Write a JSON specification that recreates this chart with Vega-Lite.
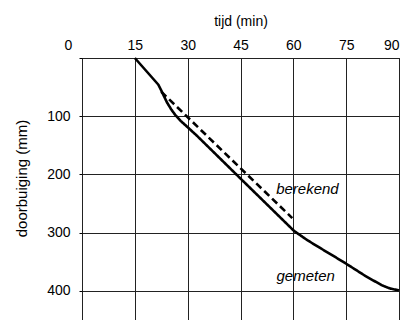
{
  "$schema": "https://vega.github.io/schema/vega-lite/v6.json",
  "width": 317,
  "height": 262,
  "autosize": "none",
  "padding": {"left": 82, "top": 58, "right": 9, "bottom": 0},
  "config": {
    "font": "Liberation Sans",
    "view": {"stroke": "black", "strokeWidth": 1},
    "axis": {
      "labelFont": "Liberation Sans",
      "titleFont": "Liberation Sans",
      "labelColor": "black",
      "titleColor": "black",
      "labelFontSize": 14,
      "titleFontSize": 14,
      "titleFontWeight": "normal",
      "gridColor": "#222",
      "gridOpacity": 1,
      "gridWidth": 1,
      "domainColor": "black",
      "tickColor": "black"
    }
  },
  "layer": [
    {
      "data": {
        "values": [
          {"t": 15, "d": 0, "s": "gemeten"},
          {"t": 21.7, "d": 46, "s": "gemeten"},
          {"t": 23, "d": 62, "s": "gemeten"},
          {"t": 24.1, "d": 76, "s": "gemeten"},
          {"t": 25.3, "d": 88, "s": "gemeten"},
          {"t": 26.5, "d": 98, "s": "gemeten"},
          {"t": 28, "d": 108, "s": "gemeten"},
          {"t": 29.3, "d": 115, "s": "gemeten"},
          {"t": 32.7, "d": 134, "s": "gemeten"},
          {"t": 45, "d": 207, "s": "gemeten"},
          {"t": 60.2, "d": 297, "s": "gemeten"},
          {"t": 64, "d": 313, "s": "gemeten"},
          {"t": 67.8, "d": 327, "s": "gemeten"},
          {"t": 74.4, "d": 351, "s": "gemeten"},
          {"t": 80.1, "d": 373, "s": "gemeten"},
          {"t": 85, "d": 390, "s": "gemeten"},
          {"t": 87.5, "d": 396, "s": "gemeten"},
          {"t": 90, "d": 399, "s": "gemeten"},
          {"t": 22.5, "d": 58, "s": "berekend"},
          {"t": 59.7, "d": 275, "s": "berekend"}
        ]
      },
      "mark": {"type": "line", "color": "black", "strokeWidth": 2.6, "interpolate": "linear", "strokeJoin": "round"},
      "encoding": {
        "x": {
          "field": "t", "type": "quantitative",
          "scale": {"domain": [0, 90], "nice": false},
          "axis": {
            "orient": "top", "title": "tijd (min)", "values": [0, 15, 30, 45, 60, 75, 90],
            "ticks": false, "labelPadding": 6, "titlePadding": 10, "domain": false,
            "labelOffset": {"condition": {"test": "datum.value == 0", "value": -18}, "value": 0}
          }
        },
        "y": {
          "field": "d", "type": "quantitative",
          "scale": {"domain": [0, 450], "nice": false, "reverse": true},
          "axis": {
            "title": "doorbuiging (mm)", "values": [0, 50, 100, 150, 200, 250, 300, 350, 400, 450],
            "labelExpr": "datum.value % 100 == 0 && datum.value > 0 ? datum.label : ''",
            "tickSize": 3, "labelPadding": 9, "titlePadding": 17, "domain": false,
            "titleFontSize": 15, "titleY": 120
          }
        },
        "strokeDash": {
          "field": "s", "type": "nominal",
          "scale": {"domain": ["gemeten", "berekend"], "range": [[1, 0], [7, 4]]},
          "legend": null
        },
        "order": {"field": "t", "type": "quantitative"}
      }
    },
    {
      "data": {
        "values": [
          {"t": 64, "d": 225, "label": "berekend"},
          {"t": 63.5, "d": 374, "label": "gemeten"}
        ]
      },
      "mark": {"type": "text", "fontStyle": "italic", "fontSize": 15, "color": "black", "align": "center", "baseline": "middle", "font": "Liberation Sans"},
      "encoding": {
        "x": {"field": "t", "type": "quantitative"},
        "y": {"field": "d", "type": "quantitative"},
        "text": {"field": "label"}
      }
    }
  ]
}
